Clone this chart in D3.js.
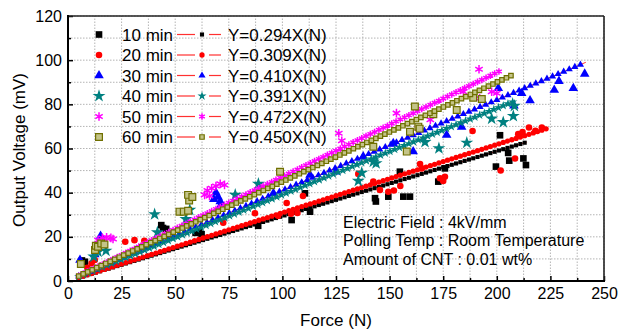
<!DOCTYPE html>
<html>
<head>
<meta charset="utf-8">
<script src="https://cdn.jsdelivr.net/npm/d3@7"></script>
<style>
  body { margin: 0; background: #fff; }
  svg { display: block; font-family: "Liberation Sans", Arial, sans-serif; }
</style>
</head>
<body>
<svg id="chart" width="629" height="332"></svg>
<script>
// series names, colours and fitted slopes
const labels = ['10 min', '20 min', '30 min', '40 min', '50 min', '60 min'];
const slopes = [0.294, 0.309, 0.410, 0.391, 0.472, 0.450];
const colors = ['#000000', '#ff0000', '#0000ff', '#008080', '#ff00ff', '#808000'];

// fitted curve range (N) and spacing of its symbols
const fitStart = [5, 5, 5, 5, 5, 5];
const fitEnd = [214, 223, 241.5, 208.5, 201, 207];
const fitStep = [2.0, 2.0, 2.6, 2.2, 2.0, 2.1];

// measured points that sit off the fitted curves
const raw10x = [6.5, 7.9, 43.5, 44.3, 45.8, 59.5, 61.2, 62.3, 88.7, 104.3, 110.5, 112.9, 143.2, 143.6, 149.4, 156.4, 159.5, 154.8, 172.7, 175.8, 199.6, 201.5, 205.3, 205.8, 212.4, 213.6];
const raw10y = [9.3, 8.7, 25.3, 24.0, 23.6, 21.8, 22.6, 21.2, 25.0, 27.6, 39.7, 31.4, 37.5, 36.0, 38.2, 38.2, 38.2, 49.5, 45.0, 51.0, 51.8, 66.0, 58.0, 54.5, 55.5, 52.5];
const raw20x = [9, 10, 11, 12.5, 26.7, 31, 35.6, 72.4, 87.2, 98, 102, 104, 107, 109.6, 135.4, 142.4, 145.5, 149.4, 152, 155, 164.2, 165, 173.5, 175, 175.8, 188.7, 201.8, 208.5, 210, 212, 215, 218, 221];
const raw20y = [6, 5, 8, 9.5, 17.8, 18.5, 18.2, 26.4, 30.7, 29.5, 35.3, 30.5, 30.8, 38.5, 48.5, 45, 41.2, 40.4, 41, 43, 53, 51, 46.5, 45.3, 47.2, 67.9, 50, 55.5, 66.5, 67.5, 69.5, 68, 69.5];
const raw30x = [5.6, 12.5, 15.2, 68, 69, 70, 70.5, 71, 72, 95.8, 112.9, 125, 137.7, 151.7, 161, 176.6, 183.6, 200.7, 208, 211.6, 215.5, 226.8, 229, 235.7, 241];
const raw30y = [9.5, 12, 20.4, 37, 40, 38, 33, 36, 34, 39.7, 48, 49.5, 56.3, 62.3, 58.6, 66.1, 69.8, 87.3, 79.4, 85, 81.7, 86.5, 90.5, 87.3, 93.8];
const raw40x = [12, 14, 17.7, 40.4, 41.7, 55, 56.8, 78, 88.8, 135.4, 137, 142.4, 143.7, 166.5, 173, 186, 197.6, 203, 207.7, 208.2];
const raw40y = [11, 13.3, 13.7, 30.2, 22, 28, 32.2, 39, 44, 45.3, 49, 54, 53.3, 62.9, 60.1, 62.6, 73.5, 71.9, 74.7, 79.3];
const raw50x = [14, 16, 18, 20, 21, 63.7, 65, 66, 67, 69, 71, 73, 126.3, 127.7, 153.2, 163.4, 169, 184.4, 191.7, 192, 197.6, 200];
const raw50y = [18.5, 19.5, 19.8, 19.5, 19, 39, 41, 38.5, 42, 43, 44, 43.5, 66.9, 63.5, 76, 69.2, 73, 85.7, 95.9, 82.7, 85.7, 85];
const raw60x = [6, 12.6, 13, 14, 15.5, 17, 52, 54, 56, 56.5, 56, 58, 98.9, 142.4, 158, 159.5, 161.8, 163.4, 164, 170.4, 181.3, 189, 193];
const raw60y = [7.7, 14, 16, 15.5, 17, 16.5, 31.4, 31.4, 31.8, 36.5, 39, 38, 49.5, 60.8, 58.6, 67.6, 79, 69.9, 69, 75.5, 77.4, 83, 82.4];

const rawX = [raw10x, raw20x, raw30x, raw40x, raw50x, raw60x];
const rawY = [raw10y, raw20y, raw30y, raw40y, raw50y, raw60y];

// axis ticks
const xTicks = [0, 25, 50, 75, 100, 125, 150, 175, 200, 225, 250];
const yTicks = [0, 20, 40, 60, 80, 100, 120];
const xMinor = [12.5, 37.5, 62.5, 87.5, 112.5, 137.5, 162.5, 187.5, 212.5, 237.5];
const yMinor = [10, 30, 50, 70, 90, 110];

const notes = ['Electric Field : 4kV/mm', 'Polling Temp : Room Temperature', 'Amount of CNT : 0.01 wt%'];

const svg = d3.select('#chart');
const x = d3.scaleLinear().domain([0, 250]).range([68, 604]);
const y = d3.scaleLinear().domain([0, 120]).range([281, 16]);

// symbol shapes per series
const shapes = [d3.symbolSquare, d3.symbolCircle, d3.symbolTriangle, d3.symbolStar, d3.symbolAsterisk, d3.symbolSquare];
const rawSize = [44, 34, 40, 52, 52, 46];
const fitSize = [17, 22, 22, 26, 30, 20];

function styleMark(sel, i) {
  if (i === 4) {
    sel.style('fill', 'none').style('stroke', colors[i]).style('stroke-width', 1.5);
  } else if (i === 5) {
    sel.style('fill', '#c4c488').style('stroke', '#6f6f00').style('stroke-width', 1.2);
  } else {
    sel.style('fill', colors[i]).style('stroke', 'none');
  }
}

// grid
const grid = svg.append('g');
grid.selectAll('.gx')
  .data(xTicks.concat(xMinor))
  .join('line')
  .attr('x1', d => x(d)).attr('x2', d => x(d))
  .attr('y1', y(0)).attr('y2', y(120))
  .style('stroke', '#b4b4b4').style('stroke-dasharray', '1.5,1.5');
grid.selectAll('.gy')
  .data(yTicks.concat(yMinor))
  .join('line')
  .attr('x1', x(0)).attr('x2', x(250))
  .attr('y1', d => y(d)).attr('y2', d => y(d))
  .style('stroke', '#b4b4b4').style('stroke-dasharray', '1.5,1.5');

// data layer
const plot = svg.append('g');
labels.forEach((name, i) => {
  const pts = rawX[i].map((v, k) => ({x: v, y: rawY[i][k]}));
  const fx = d3.range(fitStart[i], fitEnd[i] + 0.01, fitStep[i]);
  const fit = fx.map(v => ({x: v, y: slopes[i] * v}));

  plot.append('line')
    .attr('x1', x(fitStart[i])).attr('y1', y(slopes[i] * fitStart[i]))
    .attr('x2', x(fitEnd[i])).attr('y2', y(slopes[i] * fitEnd[i]))
    .style('stroke', '#ff3030').style('stroke-width', 1);

  plot.append('g').selectAll('path')
    .data(pts)
    .join('path')
    .attr('transform', d => `translate(${x(d.x)},${y(d.y)})`)
    .attr('d', d3.symbol(shapes[i], rawSize[i]))
    .call(styleMark, i);

  plot.append('g').selectAll('path')
    .data(fit)
    .join('path')
    .attr('transform', d => `translate(${x(d.x)},${y(d.y)})`)
    .attr('d', d3.symbol(shapes[i], fitSize[i]))
    .call(styleMark, i);
});

// axes with inward ticks
const xAxis = svg.append('g')
  .attr('transform', `translate(0,${y(0)})`)
  .call(d3.axisBottom(x).tickValues(xTicks).tickSize(-5).tickPadding(7));
svg.append('g')
  .attr('transform', `translate(0,${y(0)})`)
  .call(d3.axisBottom(x).tickValues(xMinor).tickSize(-3).tickFormat(''));
const yAxis = svg.append('g')
  .attr('transform', `translate(${x(0)},0)`)
  .call(d3.axisLeft(y).tickValues(yTicks).tickSize(-5).tickPadding(6));
svg.append('g')
  .attr('transform', `translate(${x(0)},0)`)
  .call(d3.axisLeft(y).tickValues(yMinor).tickSize(-3).tickFormat(''));

svg.selectAll('.domain').remove();
svg.selectAll('.tick line').style('stroke', '#000').style('stroke-width', 1.5);
xAxis.selectAll('text').style('font-size', '16px').style('fill', '#000');
yAxis.selectAll('text').style('font-size', '16px').style('fill', '#000');

// frame
svg.append('line').attr('x1', x(0)).attr('x2', x(250)).attr('y1', y(120)).attr('y2', y(120))
  .style('stroke', '#222').style('stroke-width', 1.6);
svg.append('line').attr('x1', x(250)).attr('x2', x(250)).attr('y1', y(120)).attr('y2', y(0))
  .style('stroke', '#222').style('stroke-width', 1.6);
svg.append('line').attr('x1', x(0) - 1).attr('x2', x(250) + 1).attr('y1', y(0)).attr('y2', y(0))
  .style('stroke', '#000').style('stroke-width', 2);
svg.append('line').attr('x1', x(0)).attr('x2', x(0)).attr('y1', y(120) - 1).attr('y2', y(0) + 1)
  .style('stroke', '#000').style('stroke-width', 2);

// axis titles
svg.append('text')
  .attr('x', 336).attr('y', 326)
  .attr('text-anchor', 'middle')
  .style('font-size', '17px')
  .text('Force (N)');
svg.append('text')
  .attr('transform', 'translate(25,150) rotate(-90)')
  .attr('text-anchor', 'middle')
  .style('font-size', '17px')
  .text('Output Voltage (mV)');

// legend
const legend = svg.append('g');
labels.forEach((name, i) => {
  const cy = 34.5 + i * 20.5;
  legend.append('path')
    .attr('transform', `translate(99,${cy})`)
    .attr('d', d3.symbol(shapes[i], rawSize[i]))
    .call(styleMark, i);
  legend.append('text')
    .attr('x', 122).attr('y', cy + 6)
    .style('font-size', '17px')
    .text(name);
  legend.append('line')
    .attr('x1', 177).attr('x2', 195).attr('y1', cy).attr('y2', cy)
    .style('stroke', '#ff3030').style('stroke-width', 1.2);
  legend.append('line')
    .attr('x1', 209).attr('x2', 221).attr('y1', cy).attr('y2', cy)
    .style('stroke', '#ff3030').style('stroke-width', 1.2);
  legend.append('path')
    .attr('transform', `translate(202,${cy})`)
    .attr('d', d3.symbol(shapes[i], fitSize[i]))
    .call(styleMark, i);
  legend.append('text')
    .attr('x', 228).attr('y', cy + 6)
    .style('font-size', '17px')
    .text(`Y=${slopes[i].toFixed(3)}X(N)`);
});

// test conditions
svg.append('g').selectAll('text')
  .data(notes)
  .join('text')
  .attr('x', 343)
  .attr('y', (d, i) => 227.5 + i * 18.8)
  .style('font-size', '16px')
  .text(d => d);
</script>
</body>
</html>
